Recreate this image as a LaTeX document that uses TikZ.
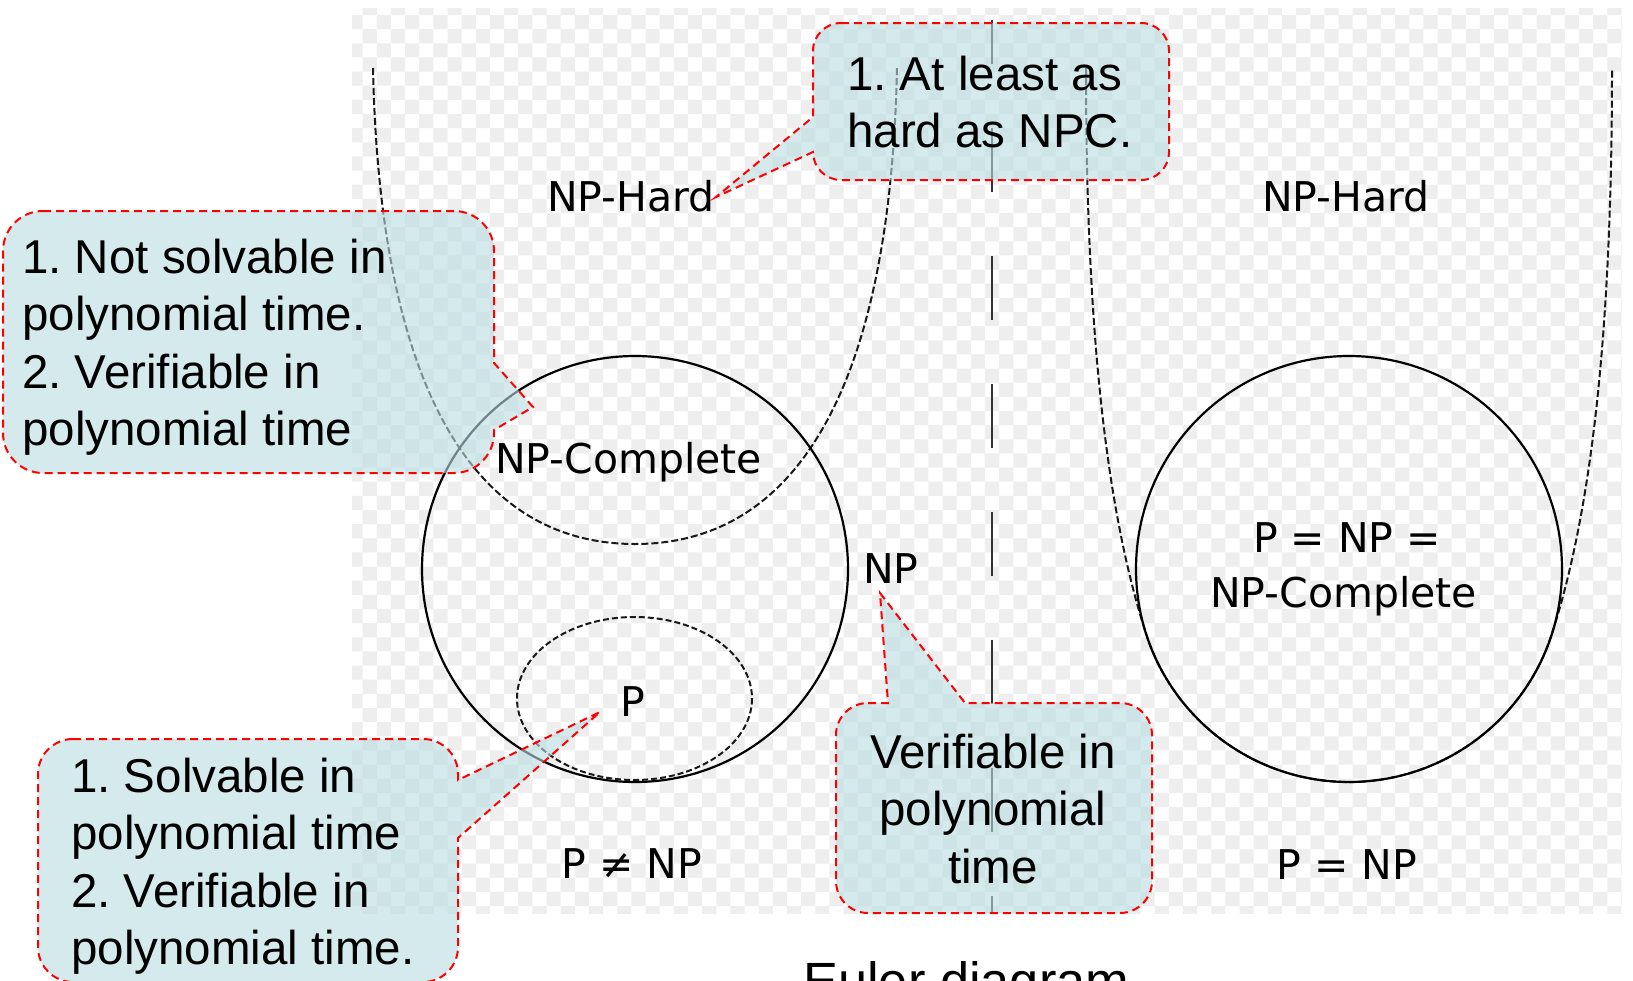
\documentclass[tikz,border=0pt]{standalone}
\usepackage{fontspec}
\setmainfont{Liberation Sans}
\newfontfamily\dejavu{DejaVu Sans}
\definecolor{ckgray}{RGB}{238,238,238}
\definecolor{bubblefill}{RGB}{185,220,225}
\frenchspacing
\begin{document}
\begin{tikzpicture}[x=1pt,y=-1pt,
  setline/.style={line width=2.2pt, black},
  hardline/.style={line width=2pt, black!90, dash pattern=on 7pt off 3pt},
  divider/.style={line width=2pt, black!80, dash pattern=on 64pt off 64pt, dash phase=20pt},
  lbl/.style={font=\dejavu\fontsize{41}{49}\selectfont, inner sep=0pt, anchor=base},
  note/.style={font=\fontsize{47.5}{57.5}\selectfont, inner sep=0pt},
  bubble/.style={fill=bubblefill, fill opacity=0.6, draw=red, line width=2pt,
                 dash pattern=on 8pt off 5pt}]
\useasboundingbox (0,0) rectangle (1633,980);
\clip (0,0) rectangle (1633,980);
\fill[white] (0,0) rectangle (1633,980);

% checkered backdrop of the diagram area
\begin{scope}
  \clip (352,8) rectangle (1622,913);
  \foreach \j in {-1,1,...,63} {
    \fill[ckgray] \foreach \i in {0,2,...,88} {
      ({362.67+14.143*\i},{15+14.143*\j}) rectangle ++(14.143,14.143) };
  }
  \foreach \j in {0,2,...,64} {
    \fill[ckgray] \foreach \i in {-1,1,...,89} {
      ({362.67+14.143*\i},{15+14.143*\j}) rectangle ++(14.143,14.143) };
  }
\end{scope}

% separator between the two cases
\coordinate (sepTop) at (992,20);
\coordinate (sepBot) at (992,913);
\draw[divider] (sepTop) -- (sepBot);

% left case: P != NP
\draw[hardline] (373,68) .. controls (380,400) and (480,544) .. (635,544)
                .. controls (790,544) and (890,400) .. (897,68);
\draw[setline] (635,569) circle[radius=213];
\draw[hardline, dash pattern=on 6pt off 3pt] (634.5,698.5) ellipse[x radius=117.5, y radius=81.5];

\node[lbl] (hardL) at (631,211) {NP-Hard};
\node[lbl, anchor=base west] (npcL) at (495,473) {NP-Complete};
\node[lbl, anchor=base west] (npL) at (863,583) {NP};
\node[lbl] (pL) at (633,716) {P};
\node[lbl] (neq) at (632,878) {P ≠ NP};

% right case: P = NP
\draw[hardline] (1086,68) .. controls (1086,330) and (1106.2,511.2) .. (1146.4,634.8)
                arc[start angle=162, end angle=18, radius=213]
                .. controls (1591.8,511.2) and (1612,330) .. (1612,68);
\draw[setline] (1349,569) circle[radius=213];

\node[lbl] (hardR) at (1346,211) {NP-Hard};
\node[lbl] (allR1) at (1347,552) {P = NP =};
\node[lbl] (allR2) at (1343.5,607) {NP-Complete};
\node[lbl] (eqR) at (1347,879) {P = NP};

% callouts
\path[bubble] (841,23) -- (1141,23) arc[start angle=270, end angle=360, radius=28]
  -- (1169,152) arc[start angle=0, end angle=90, radius=28]
  -- (841,180) arc[start angle=90, end angle=180, radius=28]
  -- (716,197) -- (813,117) -- (813,51) arc[start angle=180, end angle=270, radius=28] -- cycle;
\node[note, anchor=base west] (hardNote) at (847,90)
  {\begin{tabular}[t]{@{}l@{}}1. At least as\\hard as NPC.\end{tabular}};

\path[bubble] (43,211) -- (454,211) arc[start angle=270, end angle=360, radius=40]
  -- (494,363) -- (533,407) -- (494,430) -- (494,433)
  arc[start angle=0, end angle=90, radius=40]
  -- (43,473) arc[start angle=90, end angle=180, radius=40]
  -- (3,251) arc[start angle=180, end angle=270, radius=40] -- cycle;
\node[note, anchor=base west] (npcNote) at (22,273)
  {\begin{tabular}[t]{@{}l@{}}1. Not solvable in\\polynomial time.\\2. Verifiable in\\polynomial time\end{tabular}};

\path[bubble] (73,739) -- (423,739) arc[start angle=270, end angle=360, radius=35]
  -- (458,780) -- (600,712) -- (458,838) -- (458,947)
  arc[start angle=0, end angle=90, radius=35]
  -- (73,982) arc[start angle=90, end angle=180, radius=35]
  -- (38,774) arc[start angle=180, end angle=270, radius=35] -- cycle;
\node[note, anchor=base west] (pNote) at (71,792)
  {\begin{tabular}[t]{@{}l@{}}1. Solvable in\\polynomial time\\2. Verifiable in\\polynomial time.\end{tabular}};

\path[bubble] (868,703) -- (888,703) -- (880,593) -- (965,703) -- (1120,703)
  arc[start angle=270, end angle=360, radius=32]
  -- (1152,881) arc[start angle=0, end angle=90, radius=32]
  -- (868,913) arc[start angle=90, end angle=180, radius=32]
  -- (836,735) arc[start angle=180, end angle=270, radius=32] -- cycle;
\node[note, anchor=base] (npNote) at (993,768)
  {\begin{tabular}[t]{@{}c@{}}Verifiable in\\polynomial\\time\end{tabular}};

% caption
\node[anchor=base west, inner sep=0pt, font=\fontsize{52.4}{60}\selectfont] (caption) at (803,999) {Euler diagram};
\end{tikzpicture}
\end{document}
